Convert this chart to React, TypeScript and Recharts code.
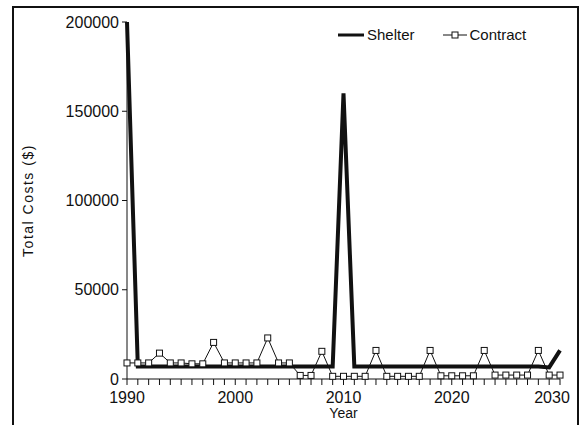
import React from 'react';
import { LineChart, Line, XAxis, YAxis } from 'recharts';

const years = [
  1990, 1991, 1992, 1993, 1994, 1995, 1996, 1997, 1998, 1999,
  2000, 2001, 2002, 2003, 2004, 2005, 2006, 2007, 2008, 2009,
  2010, 2011, 2012, 2013, 2014, 2015, 2016, 2017, 2018, 2019,
  2020, 2021, 2022, 2023, 2024, 2025, 2026, 2027, 2028, 2029,
  2030,
];

const shelter = [
  200000, 7000, 7000, 7000, 7000, 7000, 7000, 7000, 7000, 7000,
  7000, 7000, 7000, 7000, 7000, 7000, 7000, 7000, 7000, 7000,
  160000, 7000, 7000, 7000, 7000, 7000, 7000, 7000, 7000, 7000,
  7000, 7000, 7000, 7000, 7000, 7000, 7000, 7000, 7000, 6500,
  16000,
];

const contract = [
  9000, 9000, 9000, 14500, 9000, 9000, 8500, 8500, 20500, 9000,
  9000, 9000, 9000, 23000, 9000, 9000, 2000, 2000, 15500, 1500,
  1500, 1500, 1500, 16000, 1500, 1500, 1500, 1500, 16000, 1800,
  1800, 1800, 1800, 16000, 2200, 2200, 2200, 2200, 16000, 2200,
  2200,
];

const xLabels = [1990, 2000, 2010, 2020, 2030];
const yTicks = [0, 50000, 100000, 150000, 200000];

const data = years.map((year, i) => ({ year, shelter: shelter[i], contract: contract[i] }));

const font = '"Liberation Sans", Arial, sans-serif';
const ink = '#111';

const SquareDot = (props: any) => {
  const { cx, cy, index } = props;
  if (cx == null || cy == null) return null;
  return (
    <rect key={`sq-${index}`} x={cx - 3} y={cy - 3} width={6} height={6} fill="#fff" stroke={ink} strokeWidth={1} />
  );
};

// year labels only on the decades; the last one is pushed left to stay inside the frame
const YearTick = (props: any) => {
  const { x, y, payload } = props;
  const v = payload?.value;
  if (!xLabels.includes(v)) return null;
  const shift = v === 2030 ? -8 : 0;
  return (
    <text x={x + shift} y={y + 2} dy="0.85em" textAnchor="middle" fontSize={16} fill={ink} fontFamily={font}>
      {v}
    </text>
  );
};

export default function App() {
  return (
    <div style={{ position: 'absolute', left: 0, top: 0, width: 585, height: 425, background: '#fff', fontFamily: font }}>
      {/* scanned frame */}
      <div style={{ position: 'absolute', left: 13, top: 6, width: 566, height: 2, background: ink }} />
      <div style={{ position: 'absolute', left: 12, top: 6, width: 2, height: 419, background: ink }} />
      <div style={{ position: 'absolute', left: 577, top: 6, width: 2, height: 419, background: ink }} />

      <LineChart width={585} height={425} data={data} margin={{ top: 22, right: 25, left: 0, bottom: 0 }}>
        <XAxis
          dataKey="year"
          type="number"
          domain={[1990, 2030]}
          ticks={years}
          interval={0}
          tick={<YearTick />}
          tickSize={6}
          height={46}
          stroke={ink}
          label={{ value: 'Year', position: 'insideBottom', offset: 7, style: { fontSize: 14, fill: ink, fontFamily: font } }}
        />
        <YAxis
          type="number"
          domain={[0, 200000]}
          ticks={yTicks}
          width={127}
          tickSize={5}
          tickMargin={3}
          stroke={ink}
          tick={{ fontSize: 16, fill: ink, fontFamily: font }}
          label={{
            value: 'Total Costs ($)',
            angle: -90,
            position: 'insideLeft',
            offset: 28,
            style: { textAnchor: 'middle', fontSize: 14, letterSpacing: 1.5, fill: ink, fontFamily: font },
          }}
        />
        <Line
          type="linear"
          dataKey="shelter"
          stroke={ink}
          strokeWidth={4}
          dot={false}
          isAnimationActive={false}
        />
        <Line
          type="linear"
          dataKey="contract"
          stroke={ink}
          strokeWidth={1}
          dot={SquareDot}
          isAnimationActive={false}
        />
      </LineChart>

      {/* legend */}
      <div style={{ position: 'absolute', left: 338, top: 26, display: 'flex', alignItems: 'center', fontSize: 15, color: ink }}>
        <svg width={26} height={10}>
          <line x1={0} y1={5} x2={26} y2={5} stroke={ink} strokeWidth={3} />
        </svg>
        <span style={{ marginLeft: 3 }}>Shelter</span>
        <svg width={24} height={10} style={{ marginLeft: 28 }}>
          <line x1={0} y1={5} x2={24} y2={5} stroke={ink} strokeWidth={1} />
          <rect x={9} y={2} width={6} height={6} fill="#fff" stroke={ink} strokeWidth={1} />
        </svg>
        <span style={{ marginLeft: 3 }}>Contract</span>
      </div>
    </div>
  );
}
